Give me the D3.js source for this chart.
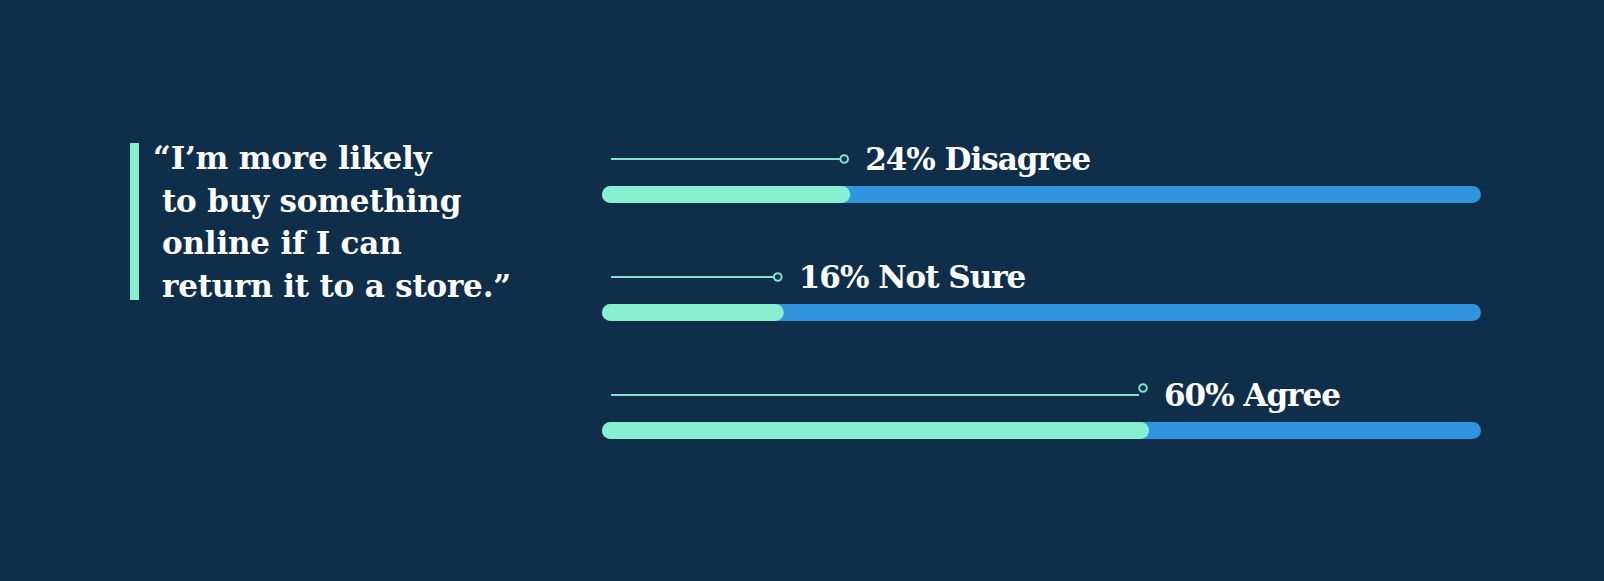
<!DOCTYPE html>
<html>
<head>
<meta charset="utf-8">
<script src="https://cdn.jsdelivr.net/npm/d3@7"></script>
<style>
  html, body { margin: 0; padding: 0; background: #0f2e4a; }
  svg { display: block; }
</style>
</head>
<body>
<svg id="chart" width="1604" height="581"></svg>
<script>
// ---- data ----
const categories = ["Disagree", "Not Sure", "Agree"];
const values = [24, 16, 60];
const quoteLines = [
  "\u201CI\u2019m more likely",
  "to buy something",
  "online if I can",
  "return it to a store.\u201D"
];

// ---- styles ----
const BG = "#0f2e4a";
const GREEN = "#88f0d0";
const BLUE = "#3194df";
const LINE = "#7fe3c8";
const WHITE = "#ffffff";

const svg = d3.select("#chart");
svg.append("rect").attr("width", 1604).attr("height", 581).attr("fill", BG);

// ---- quote ----
svg.append("rect")
  .attr("x", 130).attr("y", 143).attr("width", 9).attr("height", 157)
  .attr("fill", GREEN);

svg.append("g").selectAll("text")
  .data(quoteLines)
  .join("text")
  .attr("x", (d, i) => i === 0 ? 153 : 162)
  .attr("y", (d, i) => 169 + i * 42.5)
  .attr("fill", WHITE)
  .attr("font-family", "'DejaVu Serif', serif")
  .attr("font-weight", "bold")
  .attr("font-size", 31)
  .attr("letter-spacing", -0.2)
  .text(d => d);

// ---- scales ----
const trackStart = 602;
const x = d3.scaleLinear().domain([0, 100]).range([651, 1481]);
const y = d3.scaleBand().domain(categories).range([186, 540]).paddingInner(0).paddingOuter(0);
const barH = 17;

const rows = svg.append("g").selectAll("g")
  .data(categories.map((c, i) => ({ c, v: values[i], i })))
  .join("g")
  .attr("transform", d => `translate(0,${y(d.c)})`);

// track
rows.append("rect")
  .attr("x", trackStart)
  .attr("y", 0)
  .attr("width", x(100) - trackStart)
  .attr("height", barH)
  .attr("rx", 8.5)
  .attr("fill", BLUE);

// value bar
rows.append("rect")
  .attr("x", trackStart)
  .attr("y", 0)
  .attr("width", d => x(d.v) - trackStart)
  .attr("height", barH)
  .attr("rx", 8.5)
  .attr("fill", GREEN);

// connector line
rows.append("line")
  .attr("x1", 611)
  .attr("x2", d => x(d.v) - 10)
  .attr("y1", -27)
  .attr("y2", -27)
  .attr("stroke", LINE)
  .attr("stroke-width", 2);

rows.append("circle")
  .attr("cx", d => x(d.v) - 6)
  .attr("cy", d => d.i === 2 ? -34 : -27)
  .attr("r", 3.8)
  .attr("fill", "none")
  .attr("stroke", LINE)
  .attr("stroke-width", 2);

// labels
rows.append("text")
  .attr("x", d => x(d.v) + 15)
  .attr("y", -16)
  .attr("fill", WHITE)
  .attr("font-family", "'DejaVu Serif', serif")
  .attr("font-weight", "bold")
  .attr("font-size", 31)
  .attr("letter-spacing", -1)
  .text(d => `${d.v}% ${d.c}`);
</script>
</body>
</html>
